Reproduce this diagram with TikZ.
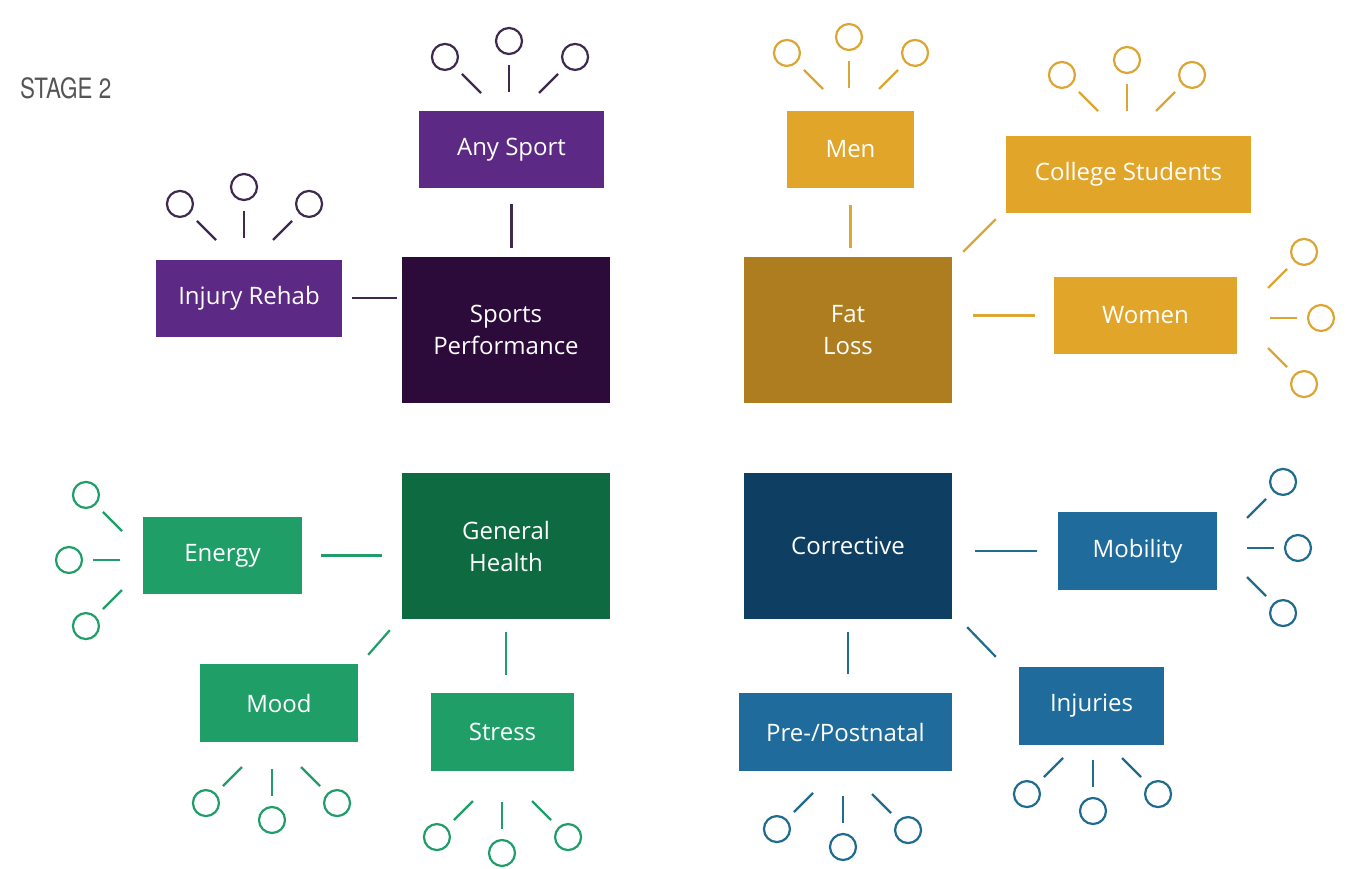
\documentclass[tikz,border=0pt]{standalone}
\usepackage{fontspec}
\setmainfont{Open Sans}
\newfontfamily\stagefont{TeX Gyre Heros}[FakeStretch=0.8]
\usetikzlibrary{calc}

% palette: light and dark fill per theme, plus line colour
\definecolor{purpleLight}{HTML}{5C2A84}
\definecolor{purpleDark}{HTML}{2C0B3B}
\definecolor{purpleLine}{HTML}{3E2A4F}
\definecolor{goldLight}{HTML}{E1A52A}
\definecolor{goldDark}{HTML}{AE7D1F}
\definecolor{goldLine}{HTML}{DBA633}
\definecolor{greenLight}{HTML}{1F9E68}
\definecolor{greenDark}{HTML}{0E6A40}
\definecolor{greenLine}{HTML}{1F9E6A}
\definecolor{blueLight}{HTML}{1F6C9C}
\definecolor{blueDark}{HTML}{0E3F62}
\definecolor{blueLine}{HTML}{1F6C8E}
\definecolor{stageGray}{HTML}{555555}

% a leaf: short spoke starting at #2, pointing at angle #3, ending near a small ring
\newcommand\leaf[4]{%
  \coordinate (#1-s) at (#2);
  \node[leaf, draw=#4] (#1) at ($(#1-s)+(#3:51)$) {};
  \draw[spoke, draw=#4] (#1-s) -- (#1);
}

\begin{document}
\begin{tikzpicture}[x=1pt, y=-1pt,
  box/.style={rectangle, inner sep=0pt, text=white, align=center,
              font=\fontsize{24}{32}\selectfont},
  small/.style={box, minimum height=77pt},
  big/.style={box, minimum width=208pt, minimum height=146pt},
  leaf/.style={circle, minimum size=26pt, inner sep=0pt, line width=2.2pt},
  spoke/.style={line width=2.2pt, shorten >=10pt},
  link/.style={line width=2.2pt}]
\useasboundingbox (0,0) rectangle (1370,869);
\fill[white] (0,0) rectangle (1370,869);

\node[anchor=west, text=stageGray, inner sep=0pt,
      font=\stagefont\fontsize{28}{30}\selectfont] (stage) at (20,88) {STAGE 2};

% ---------- Sports Performance ----------
\node[big, fill=purpleDark] (sports) at (506,330) {Sports\\Performance};
\node[small, fill=purpleLight, minimum width=185pt] (anysport) at (511.5,149.5) {Any Sport};
\node[small, fill=purpleLight, minimum width=186pt] (rehab) at (249,298) {Injury Rehab};
\draw[link, purpleLine, shorten <=16pt, shorten >=9pt] (anysport.south) -- (anysport.south |- sports.north);
\draw[link, purpleLine, shorten <=10pt, shorten >=5pt] (rehab.east) -- (rehab.east -| sports.west);
\leaf{as1}{481,93}{225}{purpleLine}
\leaf{as2}{509,92}{270}{purpleLine}
\leaf{as3}{539,93}{315}{purpleLine}
\leaf{ir1}{216,240}{225}{purpleLine}
\leaf{ir2}{244,238}{270}{purpleLine}
\leaf{ir3}{273,240}{315}{purpleLine}

% ---------- Fat Loss ----------
\node[big, fill=goldDark] (fat) at (848,330) {Fat\\Loss};
\node[small, fill=goldLight, minimum width=127pt] (men) at (850.5,149.5) {Men};
\node[small, fill=goldLight, minimum width=245pt] (college) at (1128.5,174.5) {College Students};
\node[small, fill=goldLight, minimum width=183pt] (women) at (1145.5,315.5) {Women};
\draw[link, goldLine, shorten <=17pt, shorten >=9pt] (men.south) -- (men.south |- fat.north);
\draw[link, goldLine] ($(fat.north east)+(11,-5)$) -- ($(college.south west)+(-10,6)$);
\draw[link, goldLine, shorten <=21pt, shorten >=19pt] (women.west -| fat.east) -- (women.west);
\leaf{mn1}{823,89}{225}{goldLine}
\leaf{mn2}{849,88}{270}{goldLine}
\leaf{mn3}{879,89}{315}{goldLine}
\leaf{cs1}{1098,111}{225}{goldLine}
\leaf{cs2}{1127,111}{270}{goldLine}
\leaf{cs3}{1156,111}{315}{goldLine}
\leaf{wm1}{1268,288}{315}{goldLine}
\leaf{wm2}{1270,318}{0}{goldLine}
\leaf{wm3}{1268,348}{45}{goldLine}

% ---------- General Health ----------
\node[big, fill=greenDark] (health) at (506,546) {General\\Health};
\node[small, fill=greenLight, minimum width=159pt] (energy) at (222.5,555.5) {Energy};
\node[small, fill=greenLight, minimum width=158pt, minimum height=78pt] (mood) at (279,703) {Mood};
\node[small, fill=greenLight, minimum width=143pt, minimum height=78pt] (stress) at (502.5,732) {Stress};
\draw[link, greenLine, shorten <=19pt, shorten >=20pt] (energy.east) -- (energy.east -| health.west);
\draw[link, greenLine] ($(health.south west)+(-12,11)$) -- ($(mood.north east)+(10,-9)$);
\draw[link, greenLine, shorten <=13pt, shorten >=18pt] (health.south) -- (health.south |- stress.north);
\leaf{en1}{122,531}{225}{greenLine}
\leaf{en2}{120,560}{180}{greenLine}
\leaf{en3}{122,590}{135}{greenLine}
\leaf{md1}{242,767}{135}{greenLine}
\leaf{md2}{272,769}{90}{greenLine}
\leaf{md3}{301,767}{45}{greenLine}
\leaf{st1}{473,801}{135}{greenLine}
\leaf{st2}{502,802}{90}{greenLine}
\leaf{st3}{532,801}{45}{greenLine}

% ---------- Corrective ----------
\node[big, fill=blueDark] (corr) at (848,546) {Corrective};
\node[small, fill=blueLight, minimum width=159pt, minimum height=78pt] (mobility) at (1137.5,551) {Mobility};
\node[small, fill=blueLight, minimum width=145pt, minimum height=78pt] (injuries) at (1091.5,706) {Injuries};
\node[small, fill=blueLight, minimum width=213pt, minimum height=78pt] (natal) at (845.5,732) {Pre-/Postnatal};
\draw[link, blueLine, shorten <=23pt, shorten >=21pt] (corr.east |- mobility.west) -- (mobility.west);
\draw[link, blueLine] ($(corr.south east)+(15,8)$) -- ($(injuries.north west)+(-23,-10)$);
\draw[link, blueLine, shorten <=13pt, shorten >=19pt] (corr.south) -- (corr.south |- natal.north);
\leaf{mb1}{1247,518}{315}{blueLine}
\leaf{mb2}{1247,548}{0}{blueLine}
\leaf{mb3}{1247,577}{45}{blueLine}
\leaf{pn1}{813,793}{135}{blueLine}
\leaf{pn2}{843,796}{90}{blueLine}
\leaf{pn3}{872,794}{45}{blueLine}
\leaf{ij1}{1063,758}{135}{blueLine}
\leaf{ij2}{1093,760}{90}{blueLine}
\leaf{ij3}{1122,758}{45}{blueLine}
\end{tikzpicture}
\end{document}
